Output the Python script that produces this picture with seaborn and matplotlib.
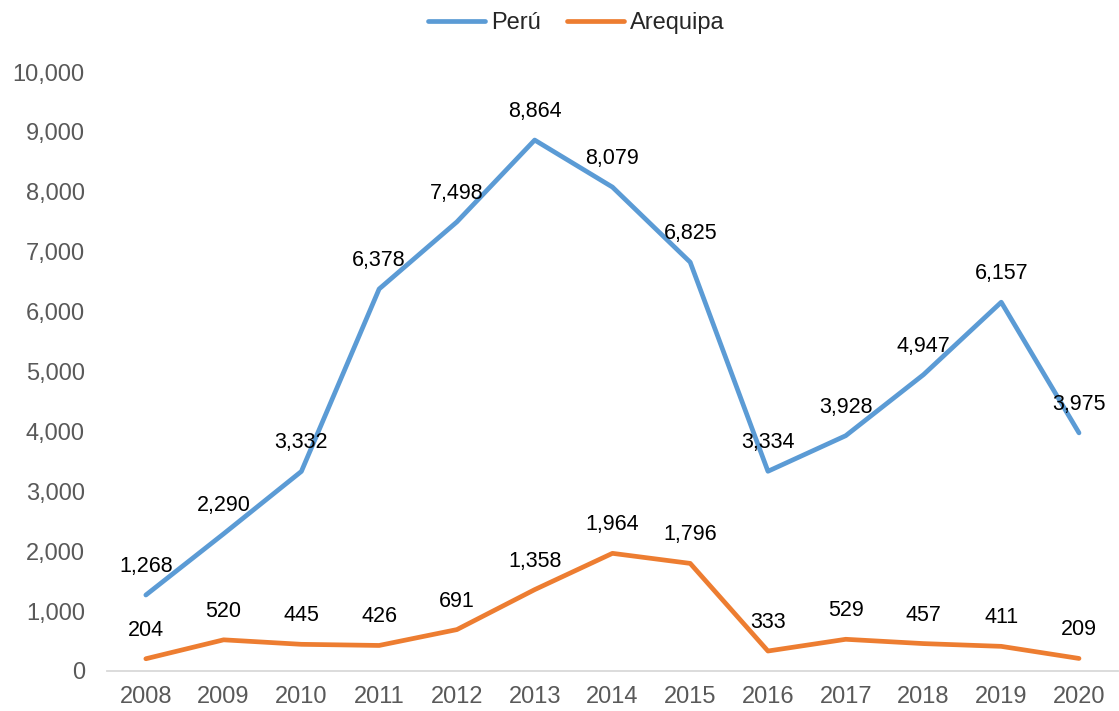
import pandas as pd
import seaborn as sns
import matplotlib.pyplot as plt
from matplotlib.ticker import FuncFormatter, MultipleLocator

# Data
years = ['2008', '2009', '2010', '2011', '2012', '2013', '2014',
         '2015', '2016', '2017', '2018', '2019', '2020']
peru = [1268, 2290, 3332, 6378, 7498, 8864, 8079, 6825, 3334, 3928, 4947, 6157, 3975]
arequipa = [204, 520, 445, 426, 691, 1358, 1964, 1796, 333, 529, 457, 411, 209]

df = pd.DataFrame({'Año': years * 2,
                   'Valor': peru + arequipa,
                   'Serie': ['Perú'] * len(years) + ['Arequipa'] * len(years)})

sns.set_style('white')
plt.rcParams['font.family'] = ['Liberation Sans', 'DejaVu Sans']

fig = plt.figure(figsize=(11.19, 7.11), dpi=100)
ax = fig.add_axes([0.0956, 0.0563, 0.9034, 0.8424])

palette = {'Perú': '#5B9BD5', 'Arequipa': '#ED7D31'}
sns.lineplot(data=df, x='Año', y='Valor', hue='Serie', palette=palette,
             linewidth=3.4, ax=ax, legend=True, sort=False)

# Data labels
for i, y in enumerate(years):
    for vals in (peru, arequipa):
        ax.annotate(f'{vals[i]:,}', xy=(i, vals[i]), xytext=(0, 20.5),
                    textcoords='offset points', ha='center', va='center',
                    fontsize=15.5, color='black')

ax.set_xlim(-0.5, len(years) - 0.5)
ax.set_ylim(0, 10000)
ax.yaxis.set_major_locator(MultipleLocator(1000))
ax.yaxis.set_major_formatter(FuncFormatter(lambda v, p: f'{int(v):,}'))
ax.set_xlabel('')
ax.set_ylabel('')

for s in ['top', 'right', 'left']:
    ax.spines[s].set_visible(False)
ax.spines['bottom'].set_color('#D9D9D9')
ax.spines['bottom'].set_linewidth(1.3)

ax.set_xticks(range(len(years)))
ax.set_xticks([i - 0.5 for i in range(len(years) + 1)], minor=True)
ax.tick_params(axis='x', which='major', length=0, pad=11, labelsize=17, labelcolor='#595959')
ax.tick_params(axis='x', which='minor', length=7, width=1.3, color='#D9D9D9', direction='out')
ax.tick_params(axis='y', length=0, pad=16, labelsize=17, labelcolor='#595959')

handles, labels = ax.get_legend_handles_labels()
ax.get_legend().remove()
fig.legend(handles, labels, loc='center', bbox_to_anchor=(0.515, 0.967), ncol=2,
           frameon=False, fontsize=17, handlelength=2.4, columnspacing=1.1,
           handletextpad=0.25)

fig.savefig('out.png', dpi=100)
